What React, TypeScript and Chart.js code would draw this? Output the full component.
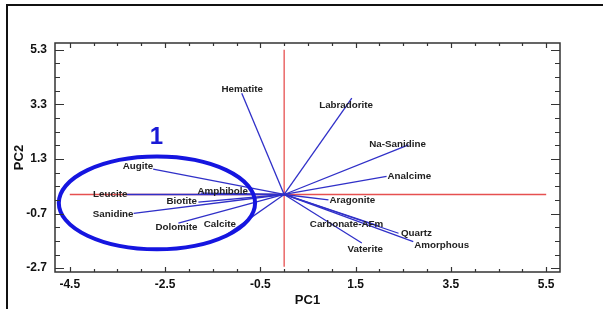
import React, { useEffect, useRef } from "react";
import { Chart, registerables } from "chart.js";

Chart.register(...registerables);

// ---- data ----
const variables = [
  "Hematite", "Labradorite", "Na-Sanidine", "Analcime", "Aragonite",
  "Carbonate-AFm", "Quartz", "Amorphous", "Vaterite", "Augite",
  "Leucite", "Amphibole", "Biotite", "Sanidine", "Dolomite", "Calcite",
];
const loadingPC1 = [-0.89, 1.42, 2.61, 2.15, 0.93, 1.98, 2.40, 2.71, 1.63, -2.75, -3.3, -1.75, -1.80, -3.16, -2.22, -1.31];
const loadingPC2 = [3.71, 3.53, 1.82, 0.66, -0.20, -1.15, -1.42, -1.73, -1.78, 0.93, 0.0, 0.05, -0.28, -0.69, -1.05, -1.60];
const labelPC1 = [-0.88, 1.30, 2.38, 2.17, 0.95, 1.31, 2.45, 2.73, 1.70, -3.07, -3.65, -1.29, -2.15, -3.59, -2.26, -1.35];
const labelPC2 = [3.85, 3.25, 1.84, 0.66, -0.22, -1.08, -1.42, -1.85, -1.99, 1.02, 0.02, 0.13, -0.26, -0.72, -1.21, -1.11];
const labelAlign = [
  "center", "center", "center", "left", "left",
  "center", "left", "left", "center", "center",
  "center", "center", "center", "center", "center", "center",
];

const xTickValues = [-4.5, -2.5, -0.5, 1.5, 3.5, 5.5];
const yTickValues = [-2.7, -0.7, 1.3, 3.3, 5.3];
const minorStep = 0.5;
const xRange = [-4.81, 5.79];
const yRange = [-2.84, 5.55];

// red reference axes (PC1 = 0, PC2 = 0)
const hAxisPC1 = [-4.5, 5.5];
const vAxisPC2 = [-2.65, 5.3];

// group ellipse "1"
const groupCenter = [-2.67, -0.31];
const groupRadii = [2.06, 1.7];
const groupLabel = "1";
const groupLabelPos = [-2.68, 2.11];

const FONT = "'Liberation Sans', Arial, Helvetica, sans-serif";

const decorPlugin = {
  id: "biplotDecor",
  beforeDraw(chart: any) {
    const ctx = chart.ctx;
    ctx.save();
    ctx.fillStyle = "#ffffff";
    ctx.fillRect(0, 0, chart.width, chart.height);
    ctx.strokeStyle = "#111111";
    ctx.lineWidth = 2;
    ctx.beginPath();
    ctx.moveTo(7, chart.height);
    ctx.lineTo(7, 5);
    ctx.lineTo(chart.width, 5);
    ctx.stroke();
    ctx.restore();
  },
  afterDatasetsDraw(chart: any) {
    const ctx = chart.ctx;
    const xs = chart.scales.x;
    const ys = chart.scales.y;
    const { left, right, top, bottom } = chart.chartArea;
    ctx.save();

    // ellipse
    const cx = xs.getPixelForValue(groupCenter[0]);
    const cy = ys.getPixelForValue(groupCenter[1]);
    const rx = Math.abs(xs.getPixelForValue(groupCenter[0] + groupRadii[0]) - cx);
    const ry = Math.abs(ys.getPixelForValue(groupCenter[1] + groupRadii[1]) - cy);
    ctx.strokeStyle = "#1515e0";
    ctx.lineWidth = 4;
    ctx.beginPath();
    ctx.ellipse(cx, cy, rx, ry, 0, 0, Math.PI * 2);
    ctx.stroke();

    ctx.fillStyle = "#1a1ad6";
    ctx.font = `bold 24px ${FONT}`;
    ctx.textAlign = "center";
    ctx.textBaseline = "middle";
    ctx.fillText(groupLabel, xs.getPixelForValue(groupLabelPos[0]), ys.getPixelForValue(groupLabelPos[1]));

    // variable labels
    ctx.fillStyle = "#222222";
    ctx.font = `bold 9.8px ${FONT}`;
    ctx.textBaseline = "middle";
    variables.forEach((name, i) => {
      ctx.textAlign = labelAlign[i] as CanvasTextAlign;
      ctx.fillText(name, xs.getPixelForValue(labelPC1[i]), ys.getPixelForValue(labelPC2[i]));
    });

    // frame
    ctx.strokeStyle = "#333333";
    ctx.lineWidth = 1.5;
    ctx.strokeRect(left, top, right - left, bottom - top);

    // inward ticks
    ctx.lineWidth = 1.2;
    ctx.beginPath();
    const isMajor = (v: number, majors: number[]) => majors.some((m) => Math.abs(m - v) < 1e-6);
    for (let v = xTickValues[0]; v <= xTickValues[xTickValues.length - 1] + 1e-9; v += minorStep) {
      const px = Math.round(xs.getPixelForValue(v)) + 0.5;
      const len = isMajor(v, xTickValues) ? 5 : 3;
      ctx.moveTo(px, bottom);
      ctx.lineTo(px, bottom - len);
      ctx.moveTo(px, top);
      ctx.lineTo(px, top + len);
    }
    for (let v = yTickValues[0]; v <= yTickValues[yTickValues.length - 1] + 1e-9; v += minorStep) {
      const py = Math.round(ys.getPixelForValue(v)) + 0.5;
      const len = isMajor(v, yTickValues) ? 9 : 5;
      ctx.moveTo(left, py);
      ctx.lineTo(left + len, py);
      ctx.moveTo(right, py);
      ctx.lineTo(right - len, py);
    }
    ctx.stroke();
    ctx.restore();
  },
};

export default function App() {
  const canvasRef = useRef<HTMLCanvasElement | null>(null);

  useEffect(() => {
    if (!canvasRef.current) return;
    Chart.defaults.font.family = FONT;

    const redAxes = [
      {
        data: [{ x: hAxisPC1[0], y: 0 }, { x: hAxisPC1[1], y: 0 }],
        borderColor: "#e65050",
        borderWidth: 1.3,
        showLine: true,
        pointRadius: 0,
        order: 3,
      },
      {
        data: [{ x: 0, y: vAxisPC2[0] }, { x: 0, y: vAxisPC2[1] }],
        borderColor: "#e65050",
        borderWidth: 1.3,
        showLine: true,
        pointRadius: 0,
        order: 3,
      },
    ];
    const vectors = variables.map((name, i) => ({
      label: name,
      data: [{ x: 0, y: 0 }, { x: loadingPC1[i], y: loadingPC2[i] }],
      borderColor: "#3030c8",
      borderWidth: 1.3,
      showLine: true,
      pointRadius: 0,
      order: 1,
    }));

    const tickFont = { family: FONT, size: 12, weight: "bold" as const };
    const titleFont = { family: FONT, size: 13, weight: "bold" as const };

    const chart = new Chart(canvasRef.current, {
      type: "scatter",
      data: { datasets: [...redAxes, ...vectors] as any },
      options: {
        animation: false,
        responsive: true,
        maintainAspectRatio: false,
        layout: { padding: { top: 43, right: 43, left: 0, bottom: 0 } },
        plugins: {
          legend: { display: false },
          tooltip: { enabled: false },
        },
        events: [],
        scales: {
          x: {
            type: "linear",
            min: xRange[0],
            max: xRange[1],
            afterBuildTicks: (s: any) => {
              s.ticks = xTickValues.map((v) => ({ value: v }));
            },
            afterFit: (s: any) => {
              s.height = 37;
            },
            ticks: {
              font: tickFont,
              color: "#111",
              padding: 5,
              maxRotation: 0,
              autoSkip: false,
              callback: (v: any) => Number(v).toFixed(1),
            },
            grid: { display: false, drawTicks: false },
            border: { display: false },
            title: {
              display: true,
              text: "PC1",
              font: titleFont,
              color: "#111",
              padding: { top: 0, bottom: 1 },
            },
          },
          y: {
            type: "linear",
            min: yRange[0],
            max: yRange[1],
            afterBuildTicks: (s: any) => {
              s.ticks = yTickValues.map((v) => ({ value: v }));
            },
            afterFit: (s: any) => {
              s.width = 55;
            },
            ticks: {
              font: tickFont,
              color: "#111",
              padding: 8,
              autoSkip: false,
              callback: (v: any) => Number(v).toFixed(1),
            },
            grid: { display: false, drawTicks: false },
            border: { display: false },
            title: {
              display: true,
              text: "PC2",
              font: titleFont,
              color: "#111",
              padding: { top: 12, bottom: 0 },
            },
          },
        },
      },
      plugins: [decorPlugin],
    });
    return () => chart.destroy();
  }, []);

  return (
    <div style={{ position: "fixed", left: 0, top: 0, width: 603, height: 309, background: "#fff" }}>
      <canvas ref={canvasRef} />
    </div>
  );
}
